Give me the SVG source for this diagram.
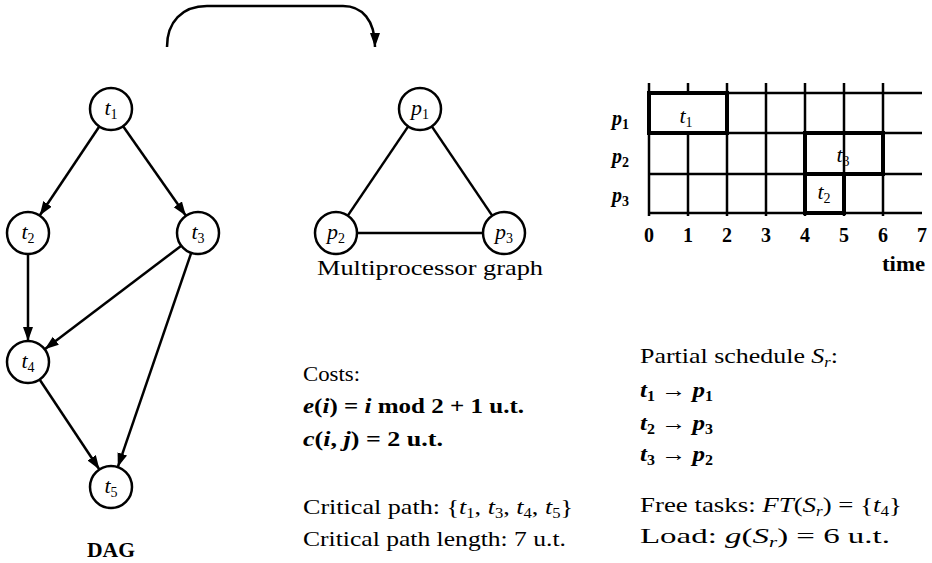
<svg xmlns="http://www.w3.org/2000/svg" width="932" height="563" viewBox="0 0 932 563">
<style>
text{font-family:"Liberation Serif","DejaVu Serif",serif;fill:#000}
.t{font-size:22px}
.g{font-size:20px}
.b{font-weight:bold}
.i{font-style:italic}
.s{font-size:14px}
.u{font-style:normal}
.node{fill:#fff;stroke:#000;stroke-width:2.5}
.edge{stroke:#000;stroke-width:2.5;fill:none}
.grid{stroke:#000;stroke-width:2.5;fill:none}
.box{stroke:#000;stroke-width:4;fill:none}
.nl{font-size:22px;font-style:italic;text-anchor:middle}
</style>
<defs>
<marker id="ah" markerUnits="userSpaceOnUse" markerWidth="15" markerHeight="11" refX="14" refY="5" orient="auto">
<path d="M0,0 L14,5 L0,10 z" fill="#000"/>
</marker>
</defs>

<g id="connectors">
<path class="edge" marker-end="url(#ah)" d="M99.3,126.5 L39.7,215.5"/>
<path class="edge" marker-end="url(#ah)" d="M123.1,126.2 L185.9,215.8"/>
<path class="edge" marker-end="url(#ah)" d="M28,254 L28,341"/>
<path class="edge" marker-end="url(#ah)" d="M181.3,245.7 L44.7,349.3"/>
<path class="edge" marker-end="url(#ah)" d="M191.2,252.9 L117.8,467.1"/>
<path class="edge" marker-end="url(#ah)" d="M39.6,379.5 L99.4,469.5"/>
<path class="edge" d="M408.2,126.4 L347.8,215.6"/>
<path class="edge" d="M431.8,126.4 L492.2,215.6"/>
<path class="edge" d="M357,233 L483,233"/>
<path class="edge" marker-end="url(#ah)" d="M167,47 C167,22 182,6 207,6 L343,6 C362,6 375,20 375,47"/>
</g>

<g id="t1"><circle class="node" cx="111" cy="109" r="21"/><text class="nl" x="111" y="115">t<tspan class="s u" dy="4">1</tspan></text></g>
<g id="t2"><circle class="node" cx="28" cy="233" r="21"/><text class="nl" x="28" y="239">t<tspan class="s u" dy="4">2</tspan></text></g>
<g id="t3"><circle class="node" cx="198" cy="233" r="21"/><text class="nl" x="198" y="239">t<tspan class="s u" dy="4">3</tspan></text></g>
<g id="t4"><circle class="node" cx="28" cy="362" r="21"/><text class="nl" x="28" y="368">t<tspan class="s u" dy="4">4</tspan></text></g>
<g id="t5"><circle class="node" cx="111" cy="487" r="21"/><text class="nl" x="111" y="493">t<tspan class="s u" dy="4">5</tspan></text></g>
<text class="t b" x="87" y="557" textLength="48" lengthAdjust="spacingAndGlyphs">DAG</text>

<g id="p1"><circle class="node" cx="420" cy="109" r="21"/><text class="nl" x="420" y="115">p<tspan class="s u" dy="4">1</tspan></text></g>
<g id="p2"><circle class="node" cx="336" cy="233" r="21"/><text class="nl" x="336" y="239">p<tspan class="s u" dy="4">2</tspan></text></g>
<g id="p3"><circle class="node" cx="504" cy="233" r="21"/><text class="nl" x="504" y="239">p<tspan class="s u" dy="4">3</tspan></text></g>
<text class="t" x="317" y="275" textLength="226" lengthAdjust="spacingAndGlyphs">Multiprocessor graph</text>

<g id="gantt">
<path class="grid" d="M649,93 H922 M649,133 H922 M649,174 H922 M649,213 H922"/>
<path class="grid" d="M649,83 V216 M688,83 V93 M688,133 V216 M727,83 V216 M766,83 V216 M805,83 V216 M844,83 V216 M883,83 V216"/>
<rect class="box" x="649" y="93" width="78" height="40"/>
<rect class="box" x="805" y="133" width="78" height="41"/>
<rect class="box" x="805" y="174" width="39" height="39"/>
<text class="nl" x="686" y="123">t<tspan class="s u" dy="4">1</tspan></text>
<text class="nl" x="843" y="162">t<tspan class="s u" dy="4">3</tspan></text>
<text class="nl" x="824" y="199">t<tspan class="s u" dy="4">2</tspan></text>
<g class="g b i"><text x="612" y="125">p<tspan class="s u" dy="4">1</tspan></text>
<text x="612" y="163">p<tspan class="s u" dy="4">2</tspan></text>
<text x="612" y="202">p<tspan class="s u" dy="4">3</tspan></text></g>
<g class="g b" text-anchor="middle">
<text x="649" y="242">0</text><text x="688" y="242">1</text><text x="727" y="242">2</text><text x="766" y="242">3</text><text x="805" y="242">4</text><text x="844" y="242">5</text><text x="883" y="242">6</text><text x="922" y="242">7</text>
</g>
<text class="t b" x="882" y="271" textLength="43" lengthAdjust="spacingAndGlyphs">time</text>
</g>

<g id="costs" class="t">
<text x="303" y="381" textLength="57" lengthAdjust="spacingAndGlyphs">Costs:</text>
<text x="303" y="413" class="b" textLength="221" lengthAdjust="spacingAndGlyphs"><tspan class="i">e</tspan>(<tspan class="i">i</tspan>) = <tspan class="i">i</tspan> mod 2 + 1 u.t.</text>
<text x="303" y="446" class="b" textLength="140" lengthAdjust="spacingAndGlyphs"><tspan class="i">c</tspan>(<tspan class="i">i</tspan>, <tspan class="i">j</tspan>) = 2 u.t.</text>
<text x="303" y="514" textLength="270" lengthAdjust="spacingAndGlyphs">Critical path: {<tspan class="i">t</tspan><tspan class="s" dy="4">1</tspan><tspan dy="-4">, </tspan><tspan class="i">t</tspan><tspan class="s" dy="4">3</tspan><tspan dy="-4">, </tspan><tspan class="i">t</tspan><tspan class="s" dy="4">4</tspan><tspan dy="-4">, </tspan><tspan class="i">t</tspan><tspan class="s" dy="4">5</tspan><tspan dy="-4">}</tspan></text>
<text x="303" y="546" textLength="263" lengthAdjust="spacingAndGlyphs">Critical path length: 7 u.t.</text>
</g>

<g id="schedule" class="t">
<text x="640" y="363" textLength="198" lengthAdjust="spacingAndGlyphs">Partial schedule <tspan class="i">S</tspan><tspan class="s i" dy="4">r</tspan><tspan dy="-4">:</tspan></text>
<text x="640" y="397" class="b" textLength="73" lengthAdjust="spacingAndGlyphs"><tspan class="i">t</tspan><tspan class="s" dy="4">1</tspan><tspan dy="-4"> → </tspan><tspan class="i">p</tspan><tspan class="s" dy="4">1</tspan></text>
<text x="640" y="430" class="b" textLength="73" lengthAdjust="spacingAndGlyphs"><tspan class="i">t</tspan><tspan class="s" dy="4">2</tspan><tspan dy="-4"> → </tspan><tspan class="i">p</tspan><tspan class="s" dy="4">3</tspan></text>
<text x="640" y="461" class="b" textLength="73" lengthAdjust="spacingAndGlyphs"><tspan class="i">t</tspan><tspan class="s" dy="4">3</tspan><tspan dy="-4"> → </tspan><tspan class="i">p</tspan><tspan class="s" dy="4">2</tspan></text>
<text x="640" y="512" textLength="262" lengthAdjust="spacingAndGlyphs">Free tasks: <tspan class="i">FT</tspan>(<tspan class="i">S</tspan><tspan class="s i" dy="4">r</tspan><tspan dy="-4">) = {</tspan><tspan class="i">t</tspan><tspan class="s" dy="4">4</tspan><tspan dy="-4">}</tspan></text>
<text x="640" y="543" textLength="250" lengthAdjust="spacingAndGlyphs">Load: <tspan class="i">g</tspan>(<tspan class="i">S</tspan><tspan class="s i" dy="4">r</tspan><tspan dy="-4">) = 6 u.t.</tspan></text>
</g>
</svg>
